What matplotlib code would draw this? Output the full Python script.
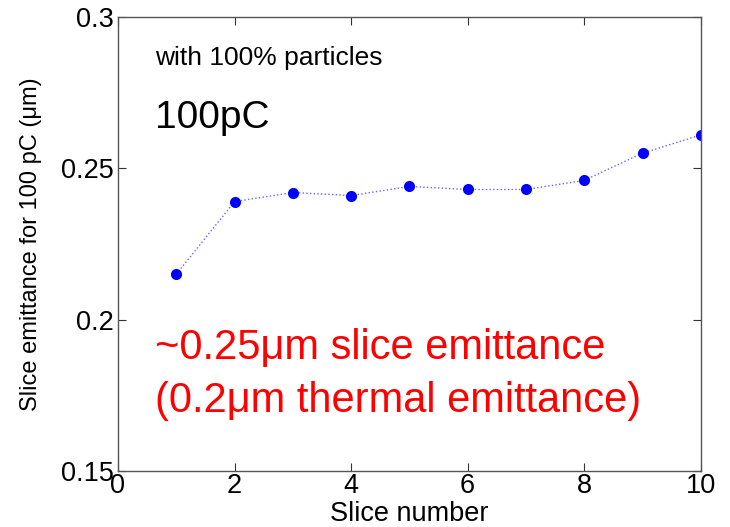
import matplotlib
matplotlib.use("Agg")
import numpy as np
import matplotlib.pyplot as plt

plt.rcParams['font.family'] = ['Liberation Sans', 'DejaVu Sans']

# slice emittance per slice
slice_no = [1, 2, 3, 4, 5, 6, 7, 8, 9, 10]
emittance = [0.215, 0.239, 0.242, 0.241, 0.244, 0.243, 0.243, 0.246, 0.255, 0.261]
xticks = [0, 2, 4, 6, 8, 10]
yticks = [0.15, 0.2, 0.25, 0.3]
ytick_labels = ['0.15', '0.2', '0.25', '0.3']

fig = plt.figure(figsize=(7.3, 5.27), dpi=100)
ax = fig.add_axes([0.1616, 0.106, 0.7984, 0.862])

# dotted line and the dots on top
ax.plot(slice_no, emittance, color='blue', linestyle=':', linewidth=1.0, alpha=0.6)
ax.plot(slice_no, emittance, 'o', color='blue', markersize=8, markeredgewidth=0)

ax.set_xlim(0, 10)
ax.set_ylim(0.15, 0.3)
ax.set_xticks(xticks)
ax.set_yticks(yticks)
ax.set_yticklabels(ytick_labels)
ax.tick_params(direction='in', top=True, right=True, length=6, width=0.8,
               labelsize=19.5, pad=3, color='#333333')
ax.tick_params(axis='x', pad=1)
for s in ax.spines.values():
    s.set_color('#555555')
    s.set_linewidth(1.0)

ax.set_xlabel('Slice number', fontsize=19.5)
ax.set_ylabel('Slice emittance for 100 pC (\u03bcm)', fontsize=17)
ax.xaxis.set_label_coords(0.5, -0.066)
ax.yaxis.set_label_coords(-0.13, 0.5)

ax.text(0.635, 0.2864, 'with 100% particles', fontsize=19, va='center', ha='left')
ax.text(0.635, 0.2666, '100pC', fontsize=28, va='center', ha='left')
ax.text(0.635, 0.1907, '~0.25\u03bcm slice emittance', fontsize=30, color='red',
        va='center', ha='left')
ax.text(0.635, 0.1732, '(0.2\u03bcm thermal emittance)', fontsize=30, color='red',
        va='center', ha='left')

plt.savefig('out.png', dpi=100)
